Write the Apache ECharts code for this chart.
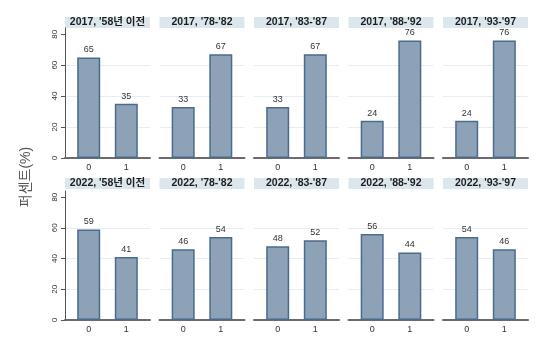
<!DOCTYPE html>
<html>
<head>
<meta charset="utf-8">
<script src="https://cdn.jsdelivr.net/npm/echarts@6/dist/echarts.min.js"></script>
<style>
  html, body { margin: 0; padding: 0; background: #fff; }
  #chart { width: 546px; height: 349px; }
</style>
</head>
<body>
<div id="chart"></div>
<script>
// Panel titles (survey year, birth cohort)
const panelTitles2017 = ["2017, '58년 이전", "2017, '78-'82", "2017, '83-'87", "2017, '88-'92", "2017, '93-'97"];
const panelTitles2022 = ["2022, '58년 이전", "2022, '78-'82", "2022, '83-'87", "2022, '88-'92", "2022, '93-'97"];
// Response categories on the x axis
const categories = [0, 1];
// Percent for category 0 and 1 in each panel
const values2017 = [[65, 35], [33, 67], [33, 67], [24, 76], [24, 76]];
const values2022 = [[59, 41], [46, 54], [48, 52], [56, 44], [54, 46]];
// Y axis ticks
const yTicks = [0, 20, 40, 60, 80];
const yTitle = '퍼센트(%)';

const FONT = "'Liberation Sans', 'Noto Sans CJK KR', sans-serif";
const chart = echarts.init(document.getElementById('chart'));

const panelLeft0 = 65, panelStep = 94.5, panelWidth = 85;
const rows = [
  { titles: panelTitles2017, values: values2017, top: 28, height: 130, headerTop: 17 },
  { titles: panelTitles2022, values: values2022, top: 191, height: 129, headerTop: 178 }
];

const grid = [], xAxis = [], yAxis = [], series = [], graphic = [];

rows.forEach((row, r) => {
  row.values.forEach((vals, c) => {
    const idx = grid.length;
    const left = panelLeft0 + c * panelStep;
    grid.push({ left: left, top: row.top, width: panelWidth, height: row.height, containLabel: false });
    xAxis.push({
      type: 'value', gridIndex: idx, min: -0.63, max: 1.63,
      axisLine: { show: true, onZero: false, lineStyle: { color: '#6b6b6b', width: 2 } },
      axisTick: { show: false },
      splitLine: { show: false },
      axisLabel: { customValues: categories, color: '#333', fontSize: 9, fontFamily: FONT, margin: 5 }
    });
    const first = c === 0;
    yAxis.push({
      type: 'value', gridIndex: idx, min: 0, max: 84, interval: 20,
      axisLine: { show: first, onZero: false, lineStyle: { color: '#555', width: 1 } },
      axisTick: { show: first, length: 4, lineStyle: { color: '#555' }, customValues: yTicks },
      axisLabel: { show: first, customValues: yTicks, rotate: 90, color: '#333', fontSize: 8, fontFamily: FONT, margin: 6 },
      splitLine: { show: true, showMinLine: false, showMaxLine: false, lineStyle: { color: '#e6eef1', width: 1 } }
    });
    series.push({
      type: 'bar', xAxisIndex: idx, yAxisIndex: idx,
      barWidth: 23,
      data: categories.map((k, i) => [k, vals[i]]),
      itemStyle: { color: '#8da2b7', borderColor: '#4b6b8d', borderWidth: 1.5 },
      label: { show: true, position: 'top', distance: 3, color: '#333', fontSize: 9, fontFamily: FONT,
               formatter: p => p.value[1] }
    });
    // panel header strip
    graphic.push({
      type: 'group', left: left, top: row.headerTop,
      children: [
        { type: 'rect', shape: { x: 0, y: 0, width: panelWidth, height: 11 }, style: { fill: '#dce7ed' } },
        { type: 'text', x: panelWidth / 2, y: 5.5,
          style: { text: row.titles[c], fill: '#1e1e1e', font: '600 10.5px ' + FONT, align: 'center', verticalAlign: 'middle' } }
      ]
    });
  });
});

graphic.push({
  type: 'text', x: 26, y: 177, rotation: Math.PI / 2,
  style: { text: yTitle, fill: '#555', font: '14px ' + FONT, align: 'center', verticalAlign: 'middle' }
});

chart.setOption({
  animation: false,
  backgroundColor: '#fff',
  grid, xAxis, yAxis, series, graphic
});
</script>
</body>
</html>
